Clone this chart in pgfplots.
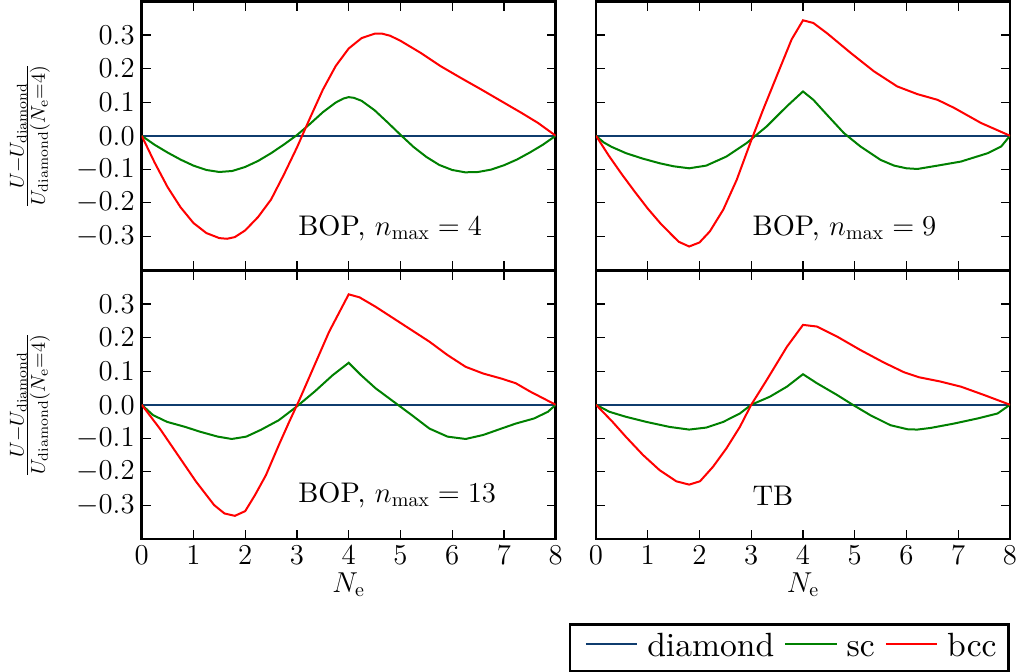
\documentclass[border=0pt]{standalone}
\usepackage{pgfplots}
\pgfplotsset{compat=1.18}

% Latin Modern at its 10pt design size, scaled to any size
\DeclareFontFamily{TU}{lmrten}{}
\DeclareFontShape{TU}{lmrten}{m}{n}{<-> "[lmroman10-regular]:+tlig;"}{}
\newcommand\tenrm{\fontfamily{lmrten}\selectfont}

\definecolor{cdiamond}{RGB}{15,60,110}
\definecolor{csc}{RGB}{0,128,0}
\definecolor{cbcc}{RGB}{255,0,0}

\tikzset{tag/.style={font=\fontsize{14.2}{17}\tenrm, anchor=base west, inner sep=0pt}}

\pgfplotsset{
  panel/.style={
    scale only axis, width=207pt, height=134.25pt,
    xmin=0, xmax=8, ymin=-0.4, ymax=0.4,
    xtick={0,1,2,3,4,5,6,7,8},
    ytick={-0.3,-0.2,-0.1,0,0.1,0.2,0.3},
    tick align=inside, xtick pos=both, ytick pos=both,
    xticklabel pos=left, yticklabel pos=left,
    major tick length=4.5pt,
    axis line style={line width=1.3pt},
    every tick/.style={black, line width=0.6pt},
    tick label style={font=\fontsize{14}{16}\selectfont},
    every axis x label/.style={at={(axis description cs:0.5,-0.171)}, anchor=center, font=\fontsize{14}{16}\selectfont},
    every axis y label/.style={at={(axis description cs:-0.27,0.5)}, rotate=90, anchor=center, font=\fontsize{14}{16}\selectfont},
    % short line sample, raised to the middle of the lowercase letters
    legend image code/.code={\path[draw=none] (0pt,-4.75pt) rectangle (4pt,0pt);
      \draw[#1] (4pt,6.3pt) -- (29.7pt,6.3pt);},
  },
  leftlabels/.style={yticklabels={$-0.3$,$-0.2$,$-0.1$,$0.0$,$0.1$,$0.2$,$0.3$},
    ylabel={$\frac{U-U_\mathrm{diamond}}{U_\mathrm{diamond}(N_\mathrm{e}=4)}$}},
  diamondline/.style={cdiamond, line width=1pt},
  scline/.style={csc, line width=1pt},
  bccline/.style={cbcc, line width=1pt},
}

\begin{document}
\begin{tikzpicture}
\useasboundingbox (0,0) rectangle (513.5pt,336pt);

% BOP, n_max = 4
\begin{axis}[panel, leftlabels, at={(70.85pt,201pt)}, anchor=south west, xticklabels={}]
\addplot[diamondline] coordinates {(0,0) (8,0)};
\addplot[scline] coordinates {(0,0) (0.25,-0.027) (0.5,-0.050) (0.75,-0.071) (1.0,-0.089) (1.25,-0.102) (1.5,-0.108) (1.75,-0.105) (2.0,-0.093) (2.25,-0.075) (2.5,-0.052) (2.75,-0.026) (3.0,0.002) (3.25,0.035) (3.5,0.070) (3.75,0.099) (3.9,0.111) (4.0,0.115) (4.1,0.113) (4.25,0.104) (4.5,0.076) (4.75,0.040) (5.0,0.003) (5.25,-0.033) (5.5,-0.063) (5.75,-0.087) (6.0,-0.102) (6.25,-0.109) (6.5,-0.108) (6.75,-0.101) (7.0,-0.088) (7.25,-0.071) (7.5,-0.050) (7.75,-0.027) (8,0)};
\addplot[bccline] coordinates {(0,0) (0.25,-0.080) (0.5,-0.153) (0.75,-0.213) (1.0,-0.260) (1.25,-0.290) (1.5,-0.305) (1.65,-0.307) (1.8,-0.302) (2.0,-0.282) (2.25,-0.242) (2.5,-0.190) (2.75,-0.115) (3.0,-0.035) (3.25,0.052) (3.5,0.137) (3.75,0.208) (4.0,0.260) (4.25,0.291) (4.5,0.304) (4.65,0.304) (4.8,0.298) (5.0,0.283) (5.39,0.247) (5.78,0.207) (6.17,0.172) (6.56,0.138) (6.95,0.103) (7.34,0.068) (7.66,0.038) (8,0)};
\node[tag] at (axis cs:3.02,-0.296) {BOP, $n_\mathrm{max}=4$};
\end{axis}

% BOP, n_max = 9
\begin{axis}[panel, at={(298pt,201pt)}, anchor=south west, xticklabels={}, yticklabels={}]
\addplot[diamondline] coordinates {(0,0) (8,0)};
\addplot[scline] coordinates {(0,0) (0.15,-0.020) (0.3,-0.033) (0.58,-0.052) (0.9,-0.068) (1.23,-0.082) (1.5,-0.091) (1.8,-0.097) (2.13,-0.089) (2.52,-0.062) (2.91,-0.022) (3.30,0.028) (3.69,0.088) (4.0,0.132) (4.2,0.107) (4.46,0.063) (4.79,0.008) (5.11,-0.032) (5.50,-0.072) (5.76,-0.089) (6.0,-0.097) (6.21,-0.099) (6.6,-0.089) (7.05,-0.077) (7.57,-0.052) (7.83,-0.032) (8,0)};
\addplot[bccline] coordinates {(0,0) (0.25,-0.060) (0.5,-0.115) (0.75,-0.167) (1.0,-0.217) (1.25,-0.262) (1.5,-0.301) (1.6,-0.316) (1.8,-0.330) (2.0,-0.318) (2.2,-0.285) (2.46,-0.220) (2.72,-0.131) (2.98,-0.022) (3.23,0.078) (3.49,0.177) (3.78,0.287) (4.0,0.344) (4.2,0.336) (4.46,0.306) (4.92,0.247) (5.37,0.192) (5.82,0.147) (6.21,0.124) (6.6,0.107) (6.92,0.083) (7.44,0.038) (8,0)};
\node[tag] at (axis cs:3.02,-0.296) {BOP, $n_\mathrm{max}=9$};
\end{axis}

% BOP, n_max = 13
\begin{axis}[panel, leftlabels, at={(70.85pt,66.5pt)}, anchor=south west, xlabel={$N_\mathrm{e}$}]
\addplot[diamondline] coordinates {(0,0) (8,0)};
\addplot[scline] coordinates {(0,0) (0.22,-0.031) (0.49,-0.051) (0.84,-0.066) (1.12,-0.080) (1.47,-0.095) (1.74,-0.102) (2.02,-0.095) (2.30,-0.075) (2.65,-0.046) (2.99,-0.006) (3.34,0.039) (3.69,0.088) (4.0,0.125) (4.24,0.088) (4.52,0.049) (4.87,0.009) (5.22,-0.031) (5.56,-0.071) (5.91,-0.095) (6.26,-0.102) (6.6,-0.090) (6.95,-0.071) (7.23,-0.056) (7.58,-0.041) (7.85,-0.021) (8,0)};
\addplot[bccline] coordinates {(0,0) (0.35,-0.071) (0.70,-0.150) (1.05,-0.229) (1.40,-0.299) (1.60,-0.324) (1.80,-0.331) (2.0,-0.317) (2.19,-0.269) (2.40,-0.210) (2.65,-0.120) (2.85,-0.051) (3.06,0.019) (3.34,0.118) (3.62,0.217) (4.0,0.329) (4.21,0.320) (4.52,0.292) (4.87,0.257) (5.22,0.222) (5.56,0.188) (5.91,0.148) (6.26,0.113) (6.6,0.093) (6.95,0.078) (7.23,0.064) (7.51,0.039) (8,0)};
\node[tag] at (axis cs:3.02,-0.29) {BOP, $n_\mathrm{max}=13$};
\end{axis}

% TB
\begin{axis}[panel, at={(298pt,66.5pt)}, anchor=south west, yticklabels={}, xlabel={$N_\mathrm{e}$},
  legend columns=3,
  legend style={at={(axis description cs:1.0,-0.3128)}, anchor=north east, draw=black, line width=1.3pt,
    font=\fontsize{16.8}{20}\tenrm, inner xsep=4pt, inner ysep=2.5pt,
    cells={anchor=base west, inner sep=0pt},
    /tikz/every odd column/.style={column sep=2.5pt},
    /tikz/every even column/.style={column sep=-0.5pt}}]
\addplot[diamondline] coordinates {(0,0) (8,0)};
\addlegendentry{diamond}
\addplot[scline] coordinates {(0,0) (0.26,-0.021) (0.58,-0.036) (0.97,-0.051) (1.42,-0.066) (1.80,-0.074) (2.13,-0.068) (2.46,-0.051) (2.78,-0.026) (3.0,0) (3.36,0.024) (3.69,0.054) (4.0,0.091) (4.27,0.064) (4.66,0.029) (4.95,0.001) (5.30,-0.031) (5.69,-0.061) (6.02,-0.073) (6.21,-0.074) (6.47,-0.069) (6.92,-0.056) (7.37,-0.041) (7.76,-0.026) (8,0)};
\addlegendentry{sc}
\addplot[bccline] coordinates {(0,0) (0.32,-0.051) (0.58,-0.096) (0.91,-0.150) (1.23,-0.195) (1.55,-0.228) (1.80,-0.238) (2.01,-0.228) (2.26,-0.185) (2.52,-0.130) (2.78,-0.066) (3.0,0) (3.30,0.074) (3.69,0.173) (4.0,0.238) (4.27,0.233) (4.66,0.203) (5.11,0.163) (5.56,0.126) (5.95,0.097) (6.24,0.082) (6.66,0.069) (7.05,0.054) (7.5,0.029) (8,0)};
\addlegendentry{bcc}
\node[tag] at (axis cs:3.02,-0.30) {TB};
\end{axis}
\end{tikzpicture}
\end{document}
